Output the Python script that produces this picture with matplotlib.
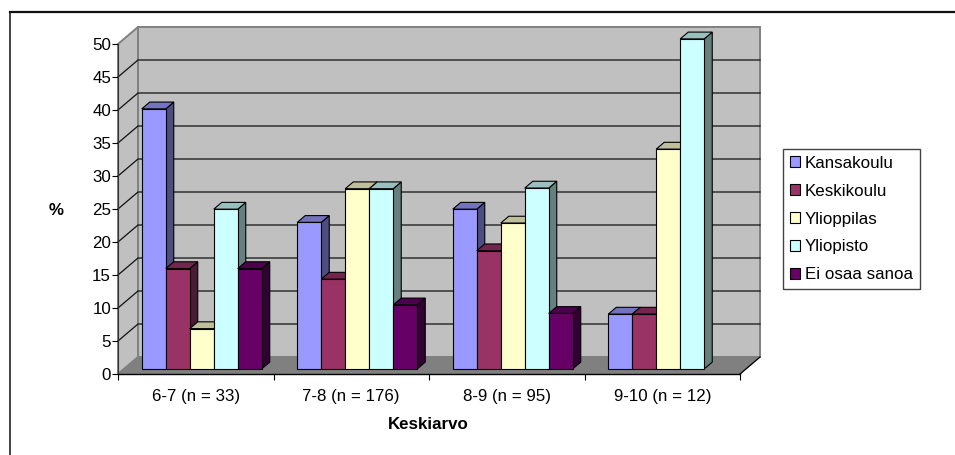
"""Excel style 3D clustered columns drawn on a plain 2D axes."""

import matplotlib
matplotlib.use("Agg")
import matplotlib.pyplot as plt
from matplotlib.colors import to_rgb
from matplotlib.lines import Line2D
from matplotlib.patches import Patch, Polygon

plt.rcParams["font.family"] = ["Liberation Sans", "DejaVu Sans"]

categories = ["6-7 (n = 33)", "7-8 (n = 176)", "8-9 (n = 95)", "9-10 (n = 12)"]
kansakoulu = [39.4, 22.2, 24.2, 8.3]
keskikoulu = [15.2, 13.6, 17.9, 8.3]
ylioppilas = [6.1, 27.3, 22.1, 33.3]
yliopisto = [24.2, 27.3, 27.4, 50.0]
ei_osaa = [15.2, 9.7, 8.4, 0.0]

series_names = ["Kansakoulu", "Keskikoulu", "Ylioppilas", "Yliopisto", "Ei osaa sanoa"]
series_values = [kansakoulu, keskikoulu, ylioppilas, yliopisto, ei_osaa]
series_colors = ["#9999FF", "#993366", "#FFFFCC", "#CCFFFF", "#660066"]
y_ticks = list(range(0, 55, 5))

W, H = 955, 455
AX_LEFT, AX_RIGHT, AX_BOTTOM, AX_TOP = 118, 740, 374, 44

# depth of the 3D box, in data units
DX = 20 / ((AX_RIGHT - AX_LEFT) / 4)
DY = 17 / ((AX_BOTTOM - AX_TOP) / 50)
BAR_W = 24 / ((AX_RIGHT - AX_LEFT) / 4)
D_FRONT, D_BACK = 0.3, 0.7


def shade(color, factor):
    return tuple(c * factor for c in to_rgb(color))


def face(ax, pts, color, z, edge="black", lw=0.8):
    ax.add_patch(Polygon(pts, closed=True, facecolor=color, edgecolor=edge,
                         linewidth=lw, zorder=z, clip_on=False, joinstyle="miter"))


def main() -> None:
    fig = plt.figure(figsize=(W / 100, H / 100), dpi=100)
    ax = fig.add_axes([AX_LEFT / W, 1 - AX_BOTTOM / H,
                       (AX_RIGHT - AX_LEFT) / W, (AX_BOTTOM - AX_TOP) / H])
    ax.set_xlim(0, 4)
    ax.set_ylim(0, 50)
    ax.patch.set_visible(False)

    # walls and floor
    face(ax, [(DX, DY), (4 + DX, DY), (4 + DX, 50 + DY), (DX, 50 + DY)], "#C0C0C0", 1, "#808080", 1.4)
    face(ax, [(0, 0), (DX, DY), (DX, 50 + DY), (0, 50)], "#C0C0C0", 1, "#808080", 1.4)
    face(ax, [(0, 0), (4, 0), (4 + DX, DY), (DX, DY)], "#808080", 1, "#808080", 0.8)

    for v in y_ticks[1:-1]:
        ax.plot([0, DX, 4 + DX], [v, v + DY, v + DY], color="#111111", lw=0.9,
                zorder=2, clip_on=False)
    ax.plot([4, 4 + DX], [0, DY], color="black", lw=0.9, zorder=2, clip_on=False)

    # columns, left to right so each one covers the side of the previous
    z = 3
    n = len(series_names)
    x0 = DX * D_FRONT
    y0 = DY * D_FRONT
    ddx = DX * (D_BACK - D_FRONT)
    ddy = DY * (D_BACK - D_FRONT)
    for i in range(len(categories)):
        start = i + (1 - n * BAR_W) / 2 + x0
        for j in range(n):
            val = series_values[j][i]
            if val <= 0:
                continue
            col = series_colors[j]
            left = start + j * BAR_W
            right = left + BAR_W
            top = y0 + val
            face(ax, [(right, y0), (right + ddx, y0 + ddy), (right + ddx, top + ddy), (right, top)],
                 shade(col, 0.5), z)
            face(ax, [(left, top), (right, top), (right + ddx, top + ddy), (left + ddx, top + ddy)],
                 shade(col, 0.75), z)
            ax.bar(left, val, BAR_W, bottom=y0, align="edge", color=col, edgecolor="black",
                   linewidth=0.8, zorder=z + 0.5, clip_on=False)
            z += 1

    for side in ("top", "right"):
        ax.spines[side].set_visible(False)
    ax.spines["left"].set_color("#333333")
    ax.spines["bottom"].set_color("black")
    ax.spines["left"].set_zorder(200)
    ax.spines["bottom"].set_zorder(200)
    ax.spines["bottom"].set_linewidth(1.0)

    ax.set_yticks(y_ticks)
    ax.tick_params(axis="y", length=4, width=0.8, labelsize=12.2, pad=1)
    ax.set_xticks(range(5))
    ax.set_xticklabels([])
    ax.tick_params(axis="x", which="major", length=4, width=0.8)
    ax.set_xticks([i + 0.5 for i in range(4)], minor=True)
    ax.set_xticklabels(categories, minor=True, fontsize=12.2)
    ax.tick_params(axis="x", which="minor", length=0, pad=10.5)

    ax.set_xlabel("Keskiarvo", fontsize=12.2, fontweight="bold", labelpad=10, x=0.498)
    ax.set_ylabel("%", fontsize=12.2, fontweight="bold", rotation=0, labelpad=26, va="center", y=0.494)

    handles = [Patch(facecolor=c, edgecolor="black", linewidth=0.8) for c in series_colors]
    ax.legend(handles, series_names, loc="upper left",
              bbox_to_anchor=(783 / W, 1 - 149 / H), bbox_transform=fig.transFigure,
              fontsize=12.2, borderaxespad=0, fancybox=False, framealpha=1,
              edgecolor="#444444", handlelength=0.59, handleheight=0.59, handletextpad=0.3,
              labelspacing=0.76, borderpad=0.4)

    # chart frame, open at right and bottom
    fig.add_artist(Line2D([10 / W, 1], [1 - 12 / H, 1 - 12 / H], color="#111111", lw=1.6,
                          transform=fig.transFigure))
    fig.add_artist(Line2D([10 / W, 10 / W], [0, 1 - 12 / H], color="#111111", lw=1.1,
                          transform=fig.transFigure))

    fig.savefig("out.png", dpi=100)
    plt.close(fig)


if __name__ == "__main__":
    main()
